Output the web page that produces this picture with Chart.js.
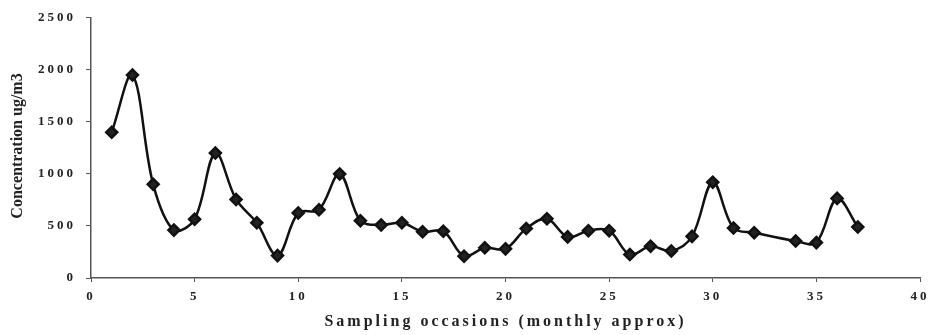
<!DOCTYPE html>
<html>
<head>
<meta charset="utf-8">
<script src="https://cdn.jsdelivr.net/npm/chart.js@4/dist/chart.umd.min.js"></script>
<style>
  html, body { margin: 0; padding: 0; background: #fff; }
  #wrap { width: 935px; height: 335px; }
</style>
</head>
<body>
<div id="wrap"><canvas id="conc"></canvas></div>
<script>
// sampling occasion numbers (33 is missing in the original)
const occasions = [1, 2, 3, 4, 5, 6, 7, 8, 9, 10, 11, 12, 13, 14, 15, 16, 17, 18, 19,
  20, 21, 22, 23, 24, 25, 26, 27, 28, 29, 30, 31, 32, 34, 35, 36, 37];
const concentration = [1400, 1950, 900, 460, 565, 1200, 755, 530, 215, 625, 655, 1000,
  550, 510, 530, 445, 450, 210, 290, 280, 475, 570, 395, 455, 455, 225, 305, 260, 400,
  920, 480, 435, 355, 340, 765, 490];
const xTitle = 'Sampling occasions (monthly approx)';
const yTitle = 'Concentration ug/m3';

const points = occasions.map((x, i) => ({ x: x, y: concentration[i] }));
const serif = '"Liberation Serif", "DejaVu Serif", serif';

// spaced-out lettering for ticks and x title, plain for the y title
const spacing = {
  id: 'spacing',
  beforeDraw(chart) { chart.ctx.letterSpacing = '3px'; },
  afterDraw(chart) {
    const ctx = chart.ctx;
    ctx.save();
    ctx.letterSpacing = '0px';
    ctx.font = 'bold 16px ' + serif;
    ctx.fillStyle = '#222';
    ctx.textAlign = 'center';
    ctx.textBaseline = 'middle';
    ctx.translate(18, 146);
    ctx.rotate(-Math.PI / 2);
    ctx.fillText(yTitle, 0, 0);
    ctx.restore();
  }
};

new Chart(document.getElementById('conc'), {
  type: 'line',
  data: {
    datasets: [{
      data: points,
      borderColor: '#111',
      borderWidth: 2.5,
      tension: 0.35,
      pointStyle: 'rectRot',
      pointRadius: 5.5,
      pointBackgroundColor: '#222',
      pointBorderColor: '#111',
      fill: false
    }]
  },
  options: {
    responsive: true,
    maintainAspectRatio: false,
    animation: false,
    layout: { padding: { top: 13, right: 15, left: 0, bottom: 0 } },
    plugins: { legend: { display: false }, tooltip: { enabled: false } },
    scales: {
      x: {
        type: 'linear',
        min: 0,
        max: 40,
        ticks: { stepSize: 5, color: '#222', font: { family: serif, size: 13, weight: 'bold' }, padding: 7 },
        grid: { drawOnChartArea: false, tickLength: 4, color: '#555' },
        border: { color: '#555', width: 1.5 },
        title: { display: true, text: xTitle, color: '#222', font: { family: serif, size: 16, weight: 'bold' }, padding: { top: 0 } },
        afterFit(scale) { scale.height = 57; }
      },
      y: {
        min: 0,
        max: 2500,
        ticks: {
          stepSize: 500, color: '#222', font: { family: serif, size: 13, weight: 'bold' }, padding: 10,
          callback: (v) => String(v)
        },
        grid: { drawOnChartArea: false, tickLength: 5, color: '#555' },
        border: { color: '#555', width: 1.5 },
        afterFit(scale) { scale.width = 91; }
      }
    }
  },
  plugins: [spacing]
});
</script>
</body>
</html>
